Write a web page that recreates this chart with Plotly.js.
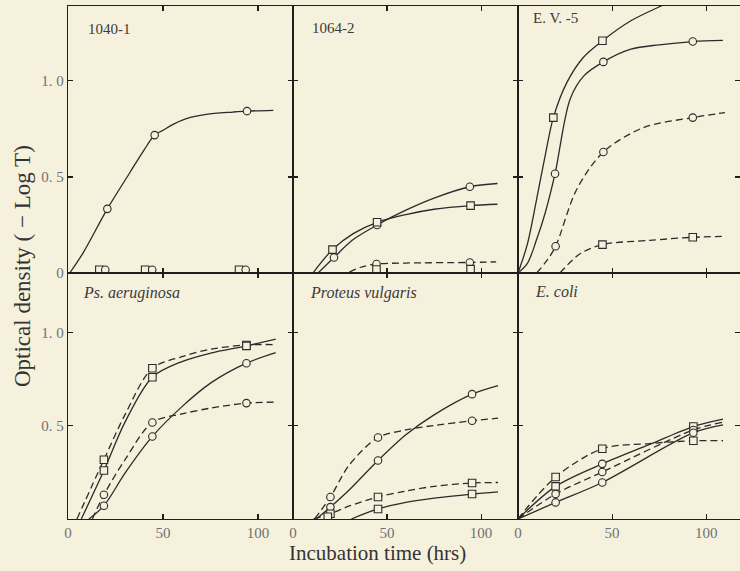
<!DOCTYPE html>
<html><head><meta charset="utf-8">
<script src="https://cdn.plot.ly/plotly-3.0.1.min.js"></script>
<style>html,body{margin:0;padding:0;background:#f6f1dc}</style>
</head><body><div id="chart" style="width:740px;height:571px"></div>
<script>
// ---------- Panel A: 1040-1 ----------
const A_circ_t = [20.7, 45.6, 94.2];
const A_circ_v = [0.334, 0.718, 0.843];
const A_circ_curve_t = [0.9, 7.9, 20.7, 32.5, 40, 45.6, 50, 55.3, 62.3, 72.8, 86.8, 94.2, 108];
const A_circ_curve_v = [0, 0.104, 0.334, 0.522, 0.64, 0.718, 0.743, 0.774, 0.804, 0.826, 0.838, 0.843, 0.847];
const A_zeroSq_t = [16.5, 40.6, 90];
const A_zeroSq_v = [0.017, 0.017, 0.017];
const A_zeroCi_t = [19.6, 44.3, 93.5];
const A_zeroCi_v = [0.017, 0.017, 0.017];

// ---------- Panel B: 1064-2 ----------
const B_solCi_t = [21.8, 44.7, 94];
const B_solCi_v = [0.081, 0.25, 0.449];
const B_solCi_curve_t = [13.3, 21.8, 32, 44.7, 60, 75, 94, 108.7];
const B_solCi_curve_v = [0, 0.081, 0.174, 0.25, 0.327, 0.39, 0.449, 0.466];
const B_solSq_t = [21, 44.7, 94.4];
const B_solSq_v = [0.122, 0.264, 0.351];
const B_solSq_curve_t = [10.6, 21, 32, 44.7, 60, 75, 94.4, 108.7];
const B_solSq_curve_v = [0, 0.122, 0.205, 0.264, 0.304, 0.332, 0.351, 0.358];
const B_dashCi_t = [44.4, 94];
const B_dashCi_v = [0.047, 0.055];
const B_dashCi_curve_t = [30, 36, 44.4, 60, 94, 108];
const B_dashCi_curve_v = [0.005, 0.03, 0.047, 0.052, 0.055, 0.058];
const B_dashSq_t = [44.4, 94.4];
const B_dashSq_v = [0.018, 0.02];

// ---------- Panel C: E. V. -5 ----------
const C_solSq_t = [18.8, 44.9];
const C_solSq_v = [0.809, 1.209];
const C_solSq_curve_t = [0, 5, 9.9, 14.4, 18.8, 25.9, 34.7, 44.9, 60, 78.2, 95];
const C_solSq_curve_v = [0, 0.15, 0.383, 0.609, 0.809, 0.99, 1.122, 1.209, 1.313, 1.40, 1.48];
const C_solCi_t = [19.7, 45.4, 92.9];
const C_solCi_v = [0.517, 1.099, 1.205];
const C_solCi_curve_t = [0, 5, 9.9, 14.5, 19.7, 27.7, 35, 45.4, 60, 75, 92.9, 108.9];
const C_solCi_curve_v = [0, 0.05, 0.174, 0.314, 0.517, 0.905, 1.026, 1.099, 1.165, 1.188, 1.205, 1.211];
const C_dashCi_t = [20, 45.4, 92.9];
const C_dashCi_v = [0.139, 0.63, 0.809];
const C_dashCi_curve_t = [9.9, 15, 20, 31.2, 45.4, 66.7, 92.9, 110];
const C_dashCi_curve_v = [0, 0.06, 0.139, 0.435, 0.63, 0.757, 0.809, 0.835];
const C_dashSq_t = [44.9, 92.9];
const C_dashSq_v = [0.148, 0.186];
const C_dashSq_curve_t = [22.3, 33, 44.9, 70, 92.9, 110];
const C_dashSq_curve_v = [0, 0.1, 0.148, 0.17, 0.186, 0.191];

// ---------- Panel D: Ps. aeruginosa ----------
const D_t = [18.9, 44.4, 93.9];
const D_dashSq_v = [0.318, 0.809, 0.934];
const D_dashSq_curve_t = [4.7, 18.9, 30, 44.4, 60, 75, 93.9, 109.3];
const D_dashSq_curve_v = [0, 0.318, 0.56, 0.809, 0.871, 0.911, 0.934, 0.936];
const D_solSq_v = [0.26, 0.761, 0.929];
const D_solSq_curve_t = [7, 18.9, 30, 44.4, 60, 75, 93.9, 109.3];
const D_solSq_curve_v = [0, 0.26, 0.52, 0.761, 0.845, 0.89, 0.929, 0.965];
const D_solCi_v = [0.071, 0.443, 0.836];
const D_solCi_curve_t = [11, 18.9, 30, 44.4, 60, 75, 93.9, 109.3];
const D_solCi_curve_v = [0, 0.071, 0.246, 0.443, 0.603, 0.729, 0.836, 0.893];
const D_dashCi_v = [0.13, 0.518, 0.622];
const D_dashCi_curve_t = [12.8, 18.9, 30, 44.4, 60, 75, 93.9, 109.3];
const D_dashCi_curve_v = [0, 0.13, 0.318, 0.518, 0.564, 0.595, 0.622, 0.627];

// ---------- Panel E: Proteus vulgaris ----------
const E_t = [19.9, 45.2, 95.2];
const E_solCi_v = [0.064, 0.314, 0.67];
const E_solCi_curve_t = [12.4, 19.9, 30, 45.2, 60, 75, 95.2, 109];
const E_solCi_curve_v = [0, 0.064, 0.157, 0.314, 0.452, 0.559, 0.67, 0.716];
const E_dashCi_v = [0.118, 0.437, 0.527];
const E_dashCi_curve_t = [11.5, 19.9, 30, 45.2, 60, 75, 95.2, 109];
const E_dashCi_curve_v = [0, 0.118, 0.291, 0.437, 0.478, 0.502, 0.527, 0.541];
const E_dashSq_v = [0.028, 0.118, 0.193];
const E_dashSq_curve_t = [11, 19.9, 30, 45.2, 60, 75, 95.2, 109];
const E_dashSq_curve_v = [0, 0.028, 0.07, 0.118, 0.15, 0.175, 0.193, 0.196];
const E_solSq_t = [18.5, 45.2, 95.2];
const E_solSq_v = [0.012, 0.054, 0.134];
const E_solSq_curve_t = [31, 45.2, 60, 75, 95.2, 109];
const E_solSq_curve_v = [0, 0.054, 0.089, 0.112, 0.134, 0.146];

// ---------- Panel F: E. coli ----------
const F_t = [20, 44.8, 93.2];
const F_dashSq_v = [0.225, 0.377, 0.42];
const F_dashSq_curve_t = [0, 20, 44.8, 70, 93.2, 109];
const F_dashSq_curve_v = [0, 0.225, 0.377, 0.405, 0.42, 0.42];
const F_solSq_v = [0.175, 0.296, 0.496];
const F_solSq_sym = ['square', 'circle', 'square'];
const F_solSq_curve_t = [0, 20, 44.8, 70, 93.2, 109];
const F_solSq_curve_v = [0, 0.175, 0.296, 0.4, 0.496, 0.536];
const F_dashCi_v = [0.134, 0.252, 0.478];
const F_dashCi_curve_t = [0, 20, 44.8, 93.2, 109];
const F_dashCi_curve_v = [0, 0.134, 0.252, 0.478, 0.52];
const F_solCi_v = [0.089, 0.196, 0.463];
const F_solCi_curve_t = [0, 20, 44.8, 93.2, 109];
const F_solCi_curve_v = [0, 0.089, 0.196, 0.463, 0.505];

// ---------- Labels ----------
const panelLabels = ['1040-1', '1064-2', 'E. V. -5', '<i>Ps. aeruginosa</i>', '<i>Proteus vulgaris</i>', '<i>E. coli</i>'];
const yTickVals = [0, 0.5, 1];
const yTickText = ['0', '0. 5', '1. 0'];
const xTickVals = [0, 50, 100];
const xTickText = ['0', '50', '100'];
const yTitle = 'Optical density ( \u2212 Log T)';
const xTitle = 'Incubation time (hrs)';

// ---------- Styling / helpers ----------
const INK = '#2b2b2b';
const BG = '#f6f1dc';
const DASH = '7px,4px';
const axisIds = ['', '2', '3', '4', '5', '6'];

function curve(t, v, dashed, k) {
  return {x: t, y: v, mode: 'lines', xaxis: 'x' + axisIds[k], yaxis: 'y' + axisIds[k],
    line: {shape: 'spline', smoothing: 0.9, color: INK, width: 1.3, dash: dashed ? DASH : 'solid'},
    hoverinfo: 'skip', showlegend: false};
}
function pts(t, v, sym, k) {
  return {x: t, y: v, mode: 'markers', xaxis: 'x' + axisIds[k], yaxis: 'y' + axisIds[k],
    marker: {symbol: sym, size: 7.5, color: BG, line: {color: INK, width: 1.1}},
    hoverinfo: 'skip', showlegend: false};
}
const SQ = 'square', CI = 'circle';

const traces = [
  curve(A_circ_curve_t, A_circ_curve_v, false, 0),
  pts(A_circ_t, A_circ_v, CI, 0),
  pts(A_zeroSq_t, A_zeroSq_v, SQ, 0),
  pts(A_zeroCi_t, A_zeroCi_v, CI, 0),
  curve(B_solCi_curve_t, B_solCi_curve_v, false, 1),
  curve(B_solSq_curve_t, B_solSq_curve_v, false, 1),
  curve(B_dashCi_curve_t, B_dashCi_curve_v, true, 1),
  pts(B_solCi_t, B_solCi_v, CI, 1),
  pts(B_solSq_t, B_solSq_v, SQ, 1),
  pts(B_dashCi_t, B_dashCi_v, CI, 1),
  pts(B_dashSq_t, B_dashSq_v, SQ, 1),
  curve(C_solSq_curve_t, C_solSq_curve_v, false, 2),
  curve(C_solCi_curve_t, C_solCi_curve_v, false, 2),
  curve(C_dashCi_curve_t, C_dashCi_curve_v, true, 2),
  curve(C_dashSq_curve_t, C_dashSq_curve_v, true, 2),
  pts(C_solSq_t, C_solSq_v, SQ, 2),
  pts(C_solCi_t, C_solCi_v, CI, 2),
  pts(C_dashCi_t, C_dashCi_v, CI, 2),
  pts(C_dashSq_t, C_dashSq_v, SQ, 2),
  curve(D_dashSq_curve_t, D_dashSq_curve_v, true, 3),
  curve(D_solSq_curve_t, D_solSq_curve_v, false, 3),
  curve(D_solCi_curve_t, D_solCi_curve_v, false, 3),
  curve(D_dashCi_curve_t, D_dashCi_curve_v, true, 3),
  pts(D_t, D_dashSq_v, SQ, 3),
  pts(D_t, D_solSq_v, SQ, 3),
  pts(D_t, D_solCi_v, CI, 3),
  pts(D_t, D_dashCi_v, CI, 3),
  curve(E_solCi_curve_t, E_solCi_curve_v, false, 4),
  curve(E_dashCi_curve_t, E_dashCi_curve_v, true, 4),
  curve(E_dashSq_curve_t, E_dashSq_curve_v, true, 4),
  curve(E_solSq_curve_t, E_solSq_curve_v, false, 4),
  pts(E_t, E_solCi_v, CI, 4),
  pts(E_t, E_dashCi_v, CI, 4),
  pts(E_t, E_dashSq_v, SQ, 4),
  pts(E_solSq_t, E_solSq_v, SQ, 4),
  curve(F_dashSq_curve_t, F_dashSq_curve_v, true, 5),
  curve(F_solSq_curve_t, F_solSq_curve_v, false, 5),
  curve(F_dashCi_curve_t, F_dashCi_curve_v, true, 5),
  curve(F_solCi_curve_t, F_solCi_curve_v, false, 5),
  pts(F_t, F_dashSq_v, SQ, 5),
  pts(F_t, F_solSq_v, F_solSq_sym, 5),
  pts(F_t, F_dashCi_v, CI, 5),
  pts(F_t, F_solCi_v, CI, 5)
];

const colDom = [[0, 0.3348], [0.3348, 0.6696], [0.6696, 1]];
const rowDom = [[0.4795, 1], [0, 0.4795]];
const xRanges = [[0, 118.4], [0, 119.6], [0, 118]];
const yRanges = [[0, 1.39], [0, 1.32]];
const tickFont = {family: 'Liberation Serif, serif', size: 15, color: '#707070'};

const layout = {
  width: 740, height: 571,
  margin: {l: 68, r: 0, t: 6, b: 52},
  paper_bgcolor: BG, plot_bgcolor: BG,
  showlegend: false,
  annotations: [],
  font: {family: 'Liberation Serif, serif'}
};
for (let k = 0; k < 6; k++) {
  const row = k < 3 ? 0 : 1, col = k % 3;
  const id = axisIds[k];
  const common = {showline: true, mirror: 'ticks', linecolor: '#1e1e1e', linewidth: 1.2,
    ticks: 'inside', ticklen: 5, tickwidth: 1.1, tickcolor: '#1e1e1e',
    showgrid: false, zeroline: false, tickfont: tickFont, fixedrange: true};
  layout['xaxis' + id] = Object.assign({}, common, {
    domain: colDom[col], anchor: 'y' + id, range: xRanges[col],
    tickvals: row === 1 ? xTickVals : [50, 100], ticktext: row === 1 ? xTickText : ['50', '100'],
    showticklabels: row === 1
  });
  layout['yaxis' + id] = Object.assign({}, common, {
    domain: rowDom[row], anchor: 'x' + id, range: yRanges[row],
    tickvals: row === 0 ? yTickVals : yTickVals.slice(1),
    ticktext: row === 0 ? yTickText : yTickText.slice(1),
    showticklabels: col === 0
  });
}
const labelPos = [[0.079, 0.913], [0.074, 0.916], [0.057, 0.955], [0.06, 0.917], [0.067, 0.92], [0.069, 0.924]];
for (let k = 0; k < 6; k++) {
  const id = axisIds[k];
  layout.annotations.push({
    text: panelLabels[k], xref: 'x' + id + ' domain', yref: 'y' + id + ' domain',
    x: labelPos[k][0], y: labelPos[k][1], xanchor: 'left', yanchor: 'middle', showarrow: false,
    font: {family: 'Liberation Serif, serif', size: k < 3 ? 15 : 16, color: '#3a3a3a'}
  });
}
layout.annotations.push({
  text: yTitle, xref: 'paper', yref: 'paper', x: -0.0685, y: 0.493, textangle: -90,
  xanchor: 'center', yanchor: 'middle', showarrow: false,
  font: {family: 'Liberation Serif, serif', size: 23, color: '#333'}
});
layout.annotations.push({
  text: xTitle, xref: 'paper', yref: 'paper', x: 0.46, y: -0.066,
  xanchor: 'center', yanchor: 'middle', showarrow: false,
  font: {family: 'Liberation Serif, serif', size: 21, color: '#333'}
});

Plotly.newPlot('chart', traces, layout, {staticPlot: true, displayModeBar: false});
</script></body></html>
